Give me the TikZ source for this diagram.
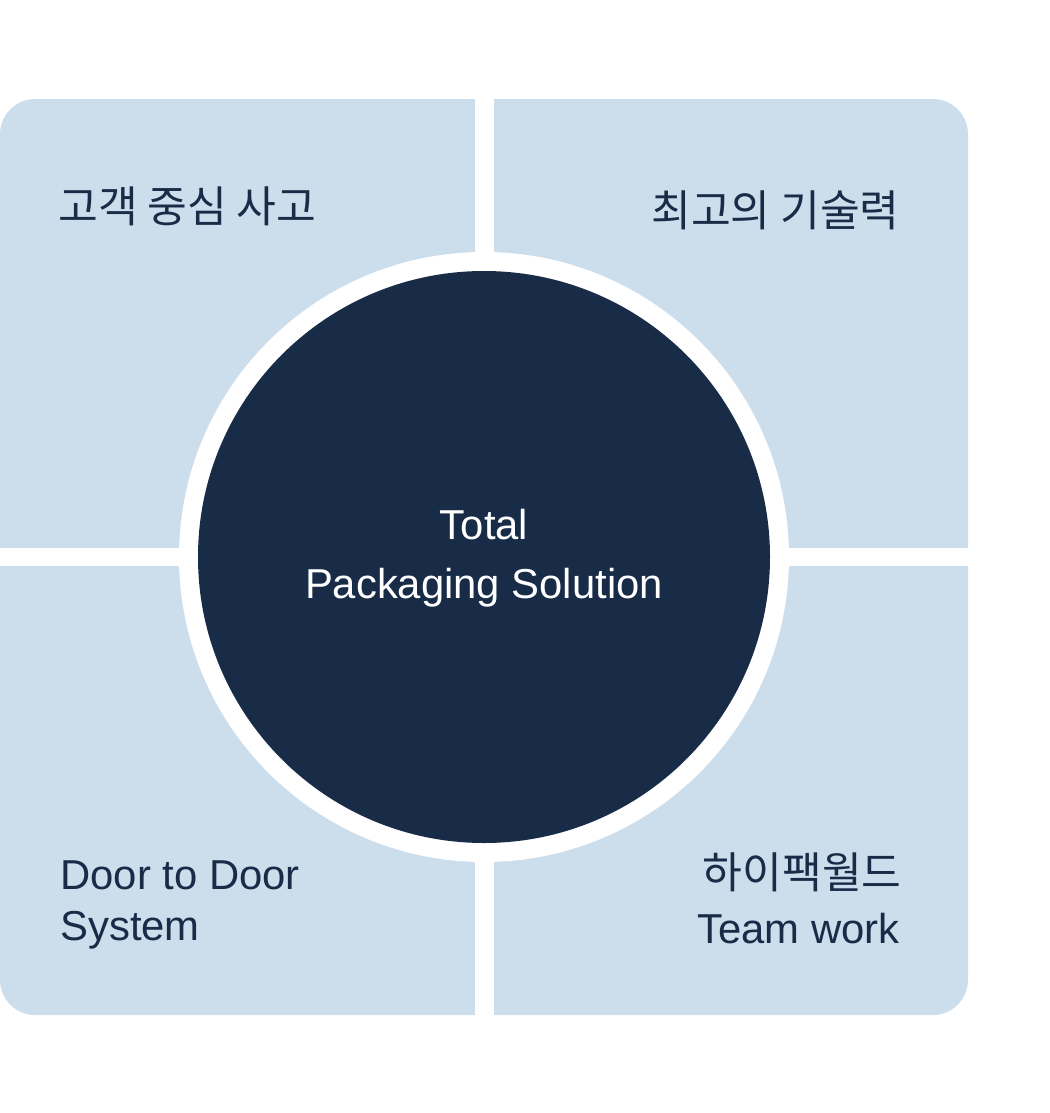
\documentclass[tikz,border=0pt]{standalone}
\usepackage{fontspec}
\setmainfont{Liberation Sans}
\newfontfamily\krfont{Noto Sans CJK KR}
\definecolor{paleblue}{HTML}{CCDDEC}
\definecolor{navyblue}{HTML}{182B47}
\tikzset{
  quadtext/.style={inner sep=0pt, text=navyblue, font=\fontsize{23.8}{28}\selectfont},
  krtext/.style={quadtext, font=\krfont\fontsize{24.6}{28}\selectfont},
  hubtext/.style={inner sep=0pt, text=white, font=\fontsize{23.8}{28}\selectfont}
}
\begin{document}
\begin{tikzpicture}[x=0.02cm, y=-0.02cm]
  \useasboundingbox (0,0) rectangle (1049,1113);
  % four quarters
  \fill[paleblue, rounded corners=20pt] (0,99) rectangle (968,1015);
  \fill[white] (475,90) rectangle (494,1025);
  \fill[white] (-5,548) rectangle (975,566);
  %
  \fill[white] (484,557) circle (305);
  \fill[navyblue] (484,557) circle (286);
  %
  \node[krtext, anchor=base west] (custom) at (58,222) {고객 중심 사고};
  \node[krtext, anchor=base east] (tech) at (900,226) {최고의 기술력};
  \node[quadtext, anchor=base west] (door) at (60,889) {Door to Door};
  \node[quadtext, anchor=base west] (system) at (60,940) {System};
  \node[krtext, anchor=base east] (hipack) at (902,888) {하이팩월드};
  \node[quadtext, anchor=base east] (team) at (900,943) {Team work};
  %
  \node[hubtext, anchor=base] (total) at (484,539) {Total};
  \node[hubtext, anchor=base] (solution) at (484,598) {Packaging Solution};
\end{tikzpicture}
\end{document}
